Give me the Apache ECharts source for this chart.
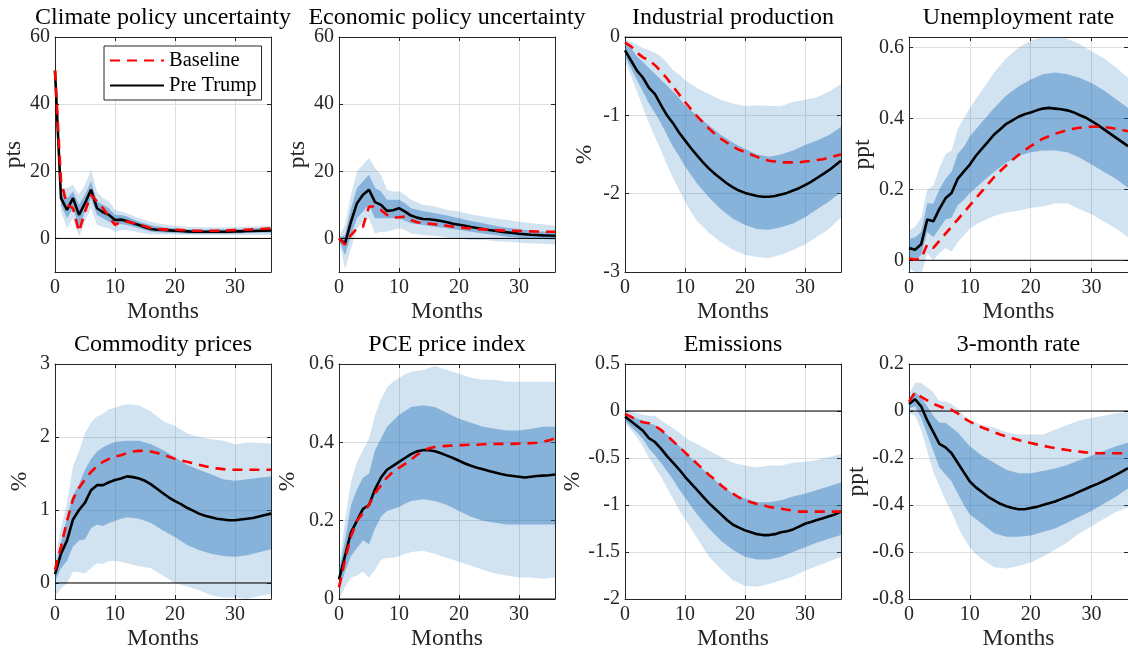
<!DOCTYPE html>
<html><head><meta charset="utf-8">
<script src="https://cdn.jsdelivr.net/npm/echarts@6/dist/echarts.min.js"></script>
<style>html,body{margin:0;padding:0;background:#fff}#c{width:1128px;height:655px}</style>
</head><body><div id="c"></div>
<script>
// ---------------- DATA ----------------
const months = [0,1,2,3,4,5,6,7,8,9,10,11,12,13,14,15,16,17,18,19,20,21,22,23,24,25,26,27,28,29,30,31,32,33,34,35,36];
const bandMonths = [0,1,2,3,4,5,6,7,8,9,10,11,12,14,16,18,20,22,24,26,28,30,32,34,36];
const panelTitles = ['Climate policy uncertainty','Economic policy uncertainty','Industrial production','Unemployment rate','Commodity prices','PCE price index','Emissions','3-month rate'];
const panelUnits = ['pts','pts','%','ppt','%','%','%','ppt'];
const xLabel = 'Months';
const legendNames = ['Baseline','Pre Trump'];
const yMin = [-10,-10,-3,-0.033,-0.22,0,-2,-0.8];
const yMax = [60,60,0,0.63,3,0.6,0.5,0.2];
const yStep = [20,20,1,0.2,1,0.2,0.5,0.2];

// Climate policy uncertainty
const cpuPre = [50,12,8.5,12,7,10.5,14.5,9,7.8,7,5.5,5.6,5.2,4.5,4.0,3.3,2.8,2.6,2.5,2.4,2.3,2.2,2.1,2.0,2.0,2.0,2.0,2.0,2.0,2.0,2.1,2.1,2.2,2.2,2.3,2.3,2.4];
const cpuBase = [50,17,10,9,2,8,13,11,9,6.5,4,5,5,4.6,4.2,3.6,3.0,2.8,2.7,2.6,2.6,2.5,2.4,2.3,2.3,2.3,2.3,2.3,2.4,2.4,2.5,2.6,2.6,2.7,2.8,2.9,3.0];
const cpuLightLo = [50,8,3,6,0.5,5,9,4,3.5,3,2,2.5,2.5,1.8,1.2,1.2,1.2,1.1,1.0,1.0,1.0,1.0,1.0,1.0,1.0];
const cpuLightHi = [50,15,15,16,13,16,20.5,14,12,11,8.5,8,7.5,6,5,4.2,3.8,3.5,3.3,3.3,3.3,3.4,3.5,3.6,3.7];
const cpuDarkLo = [50,10,6,9,3.5,8,12,7,6,5,4,4.3,4,3,2,1.8,1.6,1.4,1.4,1.4,1.4,1.5,1.6,1.7,1.8];
const cpuDarkHi = [50,13.5,12,14,10,13,17,11,10,9,7,7,6.5,5,3.9,3.3,3.0,2.7,2.6,2.6,2.7,2.8,2.9,3.0,3.1];

// Economic policy uncertainty
const epuPre = [0,-1.5,5,10.5,13,14.5,10.8,10,8.2,8.4,9,8,6.8,6.2,5.8,5.7,5.5,5.2,4.8,4.4,4.1,3.8,3.4,3.1,2.8,2.5,2.3,2.0,1.8,1.6,1.4,1.25,1.1,1.0,0.9,0.85,0.8];
const epuBase = [0,-1.8,1,3,3.5,9.5,9.5,8.5,7,6.2,6.3,6.5,5.5,4.8,4.6,4.4,4.2,4.0,3.8,3.5,3.3,3.1,3.0,2.8,2.7,2.6,2.5,2.4,2.3,2.25,2.2,2.15,2.1,2.05,2.0,2.0,2.0];
const epuLightLo = [-0.5,-9,-3,3,5,6,1.5,2,2,2.5,3,2.5,1.5,1,0.7,0.3,0,-0.5,-0.5,-0.8,-1,-1.2,-1.5,-1.6,-1.8];
const epuLightHi = [0.5,4,13,20,22,24,21,19,14.5,14,14,13,11.5,10,9.5,8.5,8,7.2,6.5,6,5.5,5,4.5,4.2,3.8];
const epuDarkLo = [-0.3,-5,1,6,8,10,6,6,6,6,6,5.3,4.5,4,3.5,3,2.5,2,1.5,1,0.5,0.2,0,-0.2,-0.3];
const epuDarkHi = [0.3,1,9,15,17,19,15,14,11.5,11.5,11.5,10.5,9,8.2,7.5,6.8,6,5.2,4.5,3.8,3.2,2.8,2.3,2.1,2.0];

// Industrial production
const ipPre = [-0.17,-0.3,-0.43,-0.52,-0.65,-0.73,-0.87,-1.0,-1.1,-1.22,-1.32,-1.42,-1.51,-1.6,-1.68,-1.75,-1.81,-1.87,-1.92,-1.96,-1.99,-2.01,-2.03,-2.04,-2.04,-2.03,-2.01,-1.99,-1.96,-1.93,-1.89,-1.85,-1.8,-1.75,-1.7,-1.64,-1.58];
const ipBase = [-0.07,-0.12,-0.2,-0.26,-0.3,-0.36,-0.44,-0.53,-0.63,-0.73,-0.83,-0.92,-1.01,-1.09,-1.17,-1.24,-1.3,-1.35,-1.4,-1.44,-1.47,-1.5,-1.53,-1.56,-1.58,-1.59,-1.6,-1.6,-1.6,-1.6,-1.59,-1.58,-1.57,-1.56,-1.54,-1.52,-1.5];
const ipLightLo = [-0.3,-0.5,-0.7,-0.9,-1.1,-1.28,-1.45,-1.63,-1.8,-1.95,-2.1,-2.23,-2.35,-2.5,-2.62,-2.72,-2.78,-2.81,-2.82,-2.78,-2.72,-2.65,-2.55,-2.45,-2.3];
const ipLightHi = [-0.03,-0.06,-0.1,-0.14,-0.17,-0.2,-0.25,-0.33,-0.42,-0.48,-0.55,-0.6,-0.65,-0.73,-0.8,-0.85,-0.88,-0.87,-0.88,-0.88,-0.83,-0.8,-0.77,-0.7,-0.6];
const ipDarkLo = [-0.25,-0.4,-0.55,-0.7,-0.85,-0.97,-1.1,-1.25,-1.4,-1.52,-1.65,-1.76,-1.87,-2.05,-2.2,-2.32,-2.4,-2.45,-2.46,-2.43,-2.38,-2.3,-2.2,-2.1,-1.98];
const ipDarkHi = [-0.08,-0.14,-0.25,-0.32,-0.4,-0.47,-0.55,-0.62,-0.7,-0.78,-0.87,-0.94,-1.0,-1.13,-1.25,-1.35,-1.43,-1.5,-1.53,-1.5,-1.45,-1.38,-1.32,-1.25,-1.15];

// Unemployment rate
const urPre = [0.035,0.03,0.045,0.115,0.11,0.145,0.175,0.19,0.23,0.25,0.27,0.295,0.315,0.335,0.355,0.37,0.385,0.395,0.405,0.412,0.417,0.423,0.428,0.43,0.428,0.426,0.423,0.418,0.41,0.403,0.393,0.382,0.37,0.358,0.346,0.334,0.322];
const urBase = [0.005,0.002,0.005,0.045,0.035,0.055,0.075,0.095,0.115,0.135,0.155,0.175,0.195,0.215,0.235,0.252,0.268,0.283,0.297,0.31,0.322,0.333,0.343,0.35,0.357,0.362,0.367,0.371,0.374,0.376,0.377,0.377,0.376,0.374,0.371,0.368,0.364];
const urLightLo = [-0.02,-0.035,-0.04,0.02,0.0,0.02,0.035,0.025,0.05,0.07,0.09,0.1,0.11,0.125,0.135,0.14,0.148,0.152,0.16,0.16,0.145,0.13,0.11,0.09,0.065];
const urLightHi = [0.085,0.095,0.12,0.2,0.21,0.26,0.3,0.31,0.37,0.4,0.43,0.455,0.48,0.53,0.57,0.6,0.62,0.63,0.635,0.625,0.61,0.59,0.57,0.545,0.515];
const urDarkLo = [0.01,0.0,0.015,0.08,0.065,0.09,0.115,0.12,0.155,0.17,0.19,0.205,0.22,0.25,0.275,0.295,0.305,0.31,0.31,0.305,0.29,0.27,0.25,0.23,0.205];
const urDarkHi = [0.06,0.065,0.08,0.16,0.16,0.2,0.23,0.25,0.3,0.32,0.35,0.37,0.39,0.43,0.465,0.49,0.51,0.525,0.53,0.525,0.515,0.5,0.48,0.455,0.43];

// Commodity prices
const cmPre = [0.12,0.4,0.58,0.87,1.0,1.1,1.27,1.34,1.34,1.38,1.41,1.43,1.46,1.45,1.43,1.4,1.35,1.29,1.23,1.17,1.12,1.08,1.03,0.99,0.95,0.92,0.9,0.88,0.87,0.86,0.86,0.87,0.88,0.89,0.91,0.93,0.95];
const cmBase = [0.18,0.5,0.85,1.15,1.3,1.42,1.52,1.6,1.66,1.7,1.73,1.75,1.78,1.8,1.81,1.81,1.8,1.78,1.76,1.73,1.7,1.68,1.66,1.64,1.62,1.6,1.58,1.57,1.56,1.55,1.55,1.55,1.55,1.55,1.55,1.55,1.55];
const cmLightLo = [-0.18,-0.08,0.0,0.15,0.15,0.13,0.2,0.27,0.26,0.3,0.3,0.29,0.27,0.23,0.2,0.1,0.0,-0.05,-0.1,-0.17,-0.2,-0.2,-0.22,-0.18,-0.15];
const cmLightHi = [0.3,0.75,1.1,1.6,1.8,2.05,2.2,2.28,2.32,2.38,2.4,2.43,2.45,2.43,2.35,2.22,2.15,2.05,2.0,1.97,1.95,1.9,1.92,1.92,1.91];
const cmDarkLo = [0.02,0.2,0.3,0.5,0.58,0.6,0.75,0.8,0.78,0.82,0.85,0.88,0.9,0.88,0.82,0.72,0.63,0.52,0.45,0.4,0.37,0.36,0.38,0.42,0.46];
const cmDarkHi = [0.2,0.55,0.9,1.2,1.35,1.55,1.7,1.8,1.86,1.9,1.93,1.94,1.95,1.95,1.9,1.82,1.72,1.62,1.55,1.49,1.42,1.4,1.42,1.44,1.46];

// PCE price index
const pcePre = [0.05,0.11,0.17,0.2,0.23,0.24,0.28,0.31,0.33,0.34,0.35,0.36,0.37,0.377,0.38,0.38,0.377,0.372,0.366,0.36,0.353,0.346,0.34,0.335,0.331,0.327,0.323,0.319,0.316,0.314,0.312,0.31,0.312,0.314,0.315,0.316,0.318];
const pceBase = [0.03,0.1,0.16,0.2,0.22,0.24,0.27,0.29,0.31,0.325,0.335,0.345,0.355,0.368,0.378,0.385,0.388,0.39,0.391,0.392,0.393,0.393,0.394,0.394,0.395,0.395,0.396,0.396,0.396,0.396,0.397,0.397,0.398,0.399,0.401,0.405,0.41];
const pceLightLo = [0.0,0.03,0.055,0.06,0.07,0.055,0.075,0.1,0.105,0.105,0.11,0.115,0.12,0.123,0.115,0.105,0.095,0.085,0.075,0.065,0.06,0.055,0.055,0.052,0.055];
const pceLightHi = [0.08,0.2,0.3,0.35,0.38,0.41,0.47,0.51,0.54,0.555,0.565,0.573,0.58,0.585,0.595,0.585,0.575,0.565,0.56,0.56,0.555,0.555,0.555,0.555,0.555];
const pceDarkLo = [0.02,0.07,0.11,0.13,0.15,0.14,0.18,0.21,0.225,0.23,0.235,0.243,0.25,0.255,0.25,0.24,0.225,0.21,0.2,0.195,0.19,0.19,0.19,0.19,0.19];
const pceDarkHi = [0.07,0.15,0.24,0.28,0.31,0.32,0.38,0.41,0.44,0.455,0.47,0.48,0.49,0.495,0.49,0.475,0.46,0.45,0.44,0.435,0.43,0.43,0.435,0.44,0.44];

// Emissions
const emPre = [-0.06,-0.11,-0.16,-0.21,-0.29,-0.33,-0.4,-0.48,-0.55,-0.62,-0.7,-0.77,-0.84,-0.91,-0.98,-1.04,-1.1,-1.16,-1.21,-1.24,-1.27,-1.29,-1.31,-1.32,-1.32,-1.31,-1.29,-1.28,-1.26,-1.23,-1.2,-1.18,-1.16,-1.14,-1.12,-1.1,-1.07];
const emBase = [-0.03,-0.06,-0.1,-0.12,-0.13,-0.16,-0.2,-0.26,-0.32,-0.38,-0.44,-0.5,-0.56,-0.62,-0.68,-0.73,-0.79,-0.84,-0.88,-0.92,-0.95,-0.97,-0.99,-1.0,-1.02,-1.03,-1.04,-1.05,-1.06,-1.07,-1.07,-1.07,-1.07,-1.07,-1.07,-1.07,-1.07];
const emLightLo = [-0.13,-0.2,-0.28,-0.38,-0.5,-0.6,-0.7,-0.82,-0.93,-1.05,-1.15,-1.25,-1.35,-1.55,-1.68,-1.8,-1.86,-1.87,-1.84,-1.8,-1.76,-1.7,-1.65,-1.6,-1.55];
const emLightHi = [0.02,0.0,-0.02,-0.04,-0.05,-0.05,-0.1,-0.14,-0.18,-0.23,-0.28,-0.32,-0.35,-0.42,-0.49,-0.55,-0.58,-0.6,-0.58,-0.58,-0.55,-0.54,-0.52,-0.49,-0.46];
const emDarkLo = [-0.1,-0.17,-0.23,-0.3,-0.4,-0.47,-0.55,-0.64,-0.73,-0.83,-0.92,-1.01,-1.1,-1.25,-1.38,-1.48,-1.55,-1.58,-1.58,-1.55,-1.5,-1.45,-1.4,-1.36,-1.32];
const emDarkHi = [-0.02,-0.05,-0.08,-0.1,-0.13,-0.15,-0.2,-0.25,-0.31,-0.37,-0.43,-0.5,-0.56,-0.68,-0.79,-0.88,-0.93,-0.97,-0.97,-0.95,-0.91,-0.88,-0.84,-0.8,-0.76];

// 3-month rate
const trPre = [0.03,0.05,0.02,-0.04,-0.09,-0.14,-0.155,-0.18,-0.22,-0.26,-0.3,-0.325,-0.345,-0.365,-0.38,-0.395,-0.405,-0.413,-0.418,-0.418,-0.413,-0.408,-0.4,-0.393,-0.385,-0.375,-0.365,-0.355,-0.343,-0.332,-0.32,-0.31,-0.298,-0.285,-0.272,-0.258,-0.243];
const trBase = [0.04,0.08,0.06,0.045,0.03,0.02,0.01,0.005,-0.01,-0.03,-0.045,-0.058,-0.07,-0.08,-0.09,-0.1,-0.108,-0.116,-0.123,-0.13,-0.136,-0.142,-0.148,-0.153,-0.158,-0.162,-0.166,-0.17,-0.173,-0.176,-0.178,-0.18,-0.18,-0.18,-0.18,-0.18,-0.18];
const trLightLo = [-0.01,-0.02,-0.08,-0.17,-0.26,-0.32,-0.38,-0.43,-0.49,-0.54,-0.58,-0.61,-0.63,-0.665,-0.67,-0.66,-0.645,-0.62,-0.59,-0.56,-0.52,-0.49,-0.46,-0.43,-0.41];
const trLightHi = [0.07,0.12,0.12,0.1,0.08,0.04,0.04,0.03,0.01,-0.02,-0.04,-0.05,-0.06,-0.07,-0.09,-0.1,-0.1,-0.1,-0.08,-0.06,-0.04,-0.03,-0.02,-0.01,-0.005];
const trDarkLo = [0.01,0.02,-0.03,-0.1,-0.17,-0.24,-0.27,-0.3,-0.35,-0.4,-0.44,-0.46,-0.48,-0.52,-0.535,-0.535,-0.53,-0.515,-0.5,-0.475,-0.45,-0.425,-0.395,-0.365,-0.33];
const trDarkHi = [0.05,0.08,0.06,0.02,-0.02,-0.05,-0.05,-0.07,-0.09,-0.12,-0.15,-0.17,-0.19,-0.22,-0.25,-0.265,-0.265,-0.255,-0.245,-0.23,-0.21,-0.19,-0.17,-0.15,-0.135];

const preSeries = [cpuPre,epuPre,ipPre,urPre,cmPre,pcePre,emPre,trPre];
const baseSeries = [cpuBase,epuBase,ipBase,urBase,cmBase,pceBase,emBase,trBase];
const lightLo = [cpuLightLo,epuLightLo,ipLightLo,urLightLo,cmLightLo,pceLightLo,emLightLo,trLightLo];
const lightHi = [cpuLightHi,epuLightHi,ipLightHi,urLightHi,cmLightHi,pceLightHi,emLightHi,trLightHi];
const darkLo = [cpuDarkLo,epuDarkLo,ipDarkLo,urDarkLo,cmDarkLo,pceDarkLo,emDarkLo,trDarkLo];
const darkHi = [cpuDarkHi,epuDarkHi,ipDarkHi,urDarkHi,cmDarkHi,pceDarkHi,emDarkHi,trDarkHi];

// ---------------- LAYOUT / STYLE ----------------
const FONT = 'Liberation Serif';
const AX = '#262626';
const LIGHT = 'rgba(26,110,185,0.2)';
const DARK = 'rgba(26,110,185,0.4)';
const gridBoxes = [
  {left:55, top:37, width:216, height:235, yGap:28},
  {left:339, top:37, width:216, height:235, yGap:27},
  {left:625, top:37, width:216, height:235, yGap:28},
  {left:909, top:37, width:219, height:235, yGap:32},
  {left:55, top:364, width:216, height:235, yGap:23},
  {left:339, top:364, width:216, height:235, yGap:39},
  {left:625, top:364, width:216, height:235, yGap:40},
  {left:909, top:364, width:219, height:235, yGap:37}
];

function bandRenderer(ms, lo, hi, color){
  return function(params, api){
    if (params.dataIndex !== 0) return null;
    const pts = [];
    for (let k = 0; k < ms.length; k++) pts.push(api.coord([ms[k], hi[k]]));
    for (let k = ms.length - 1; k >= 0; k--) pts.push(api.coord([ms[k], lo[k]]));
    const cs = params.coordSys;
    return {type:'polygon', shape:{points:pts}, style:{fill:color},
      clipPath:{type:'rect', shape:{x:cs.x, y:cs.y, width:cs.width, height:cs.height}}};
  };
}
function isMult(v, s){ const r = v / s; return Math.abs(r - Math.round(r)) < 1e-9; }

const option = {backgroundColor:'#fff', animation:false, title:[], grid:[], xAxis:[], yAxis:[], series:[],
  legend:{data:legendNames, orient:'vertical', left:104, top:46, itemWidth:54, itemHeight:14, itemGap:4,
    padding:[4,5,4,5], backgroundColor:'#fff', borderColor:AX, borderWidth:1, selectedMode:false, z:20,
    itemStyle:{opacity:0, borderWidth:0},
    textStyle:{fontFamily:FONT, fontSize:20.5, color:'#000'}}};

const labelStyle = {fontFamily:FONT, fontSize:20, color:AX};
const nameStyle = {fontFamily:FONT, fontSize:23.5, color:AX};

panelTitles.forEach((t, i) => {
  const g = gridBoxes[i];
  option.grid.push({left:g.left, top:g.top, width:g.width, height:g.height});
  option.title.push({text:t, left:g.left + g.width/2, top:g.top - 19, textAlign:'center', textVerticalAlign:'middle', padding:0,
    textStyle:{fontFamily:FONT, fontSize:24, fontWeight:'normal', color:'#000'}});
  const xi = option.xAxis.length, yi = option.yAxis.length;
  const xCommon = {type:'value', gridIndex:i, min:0, max:36, interval:10};
  option.xAxis.push(Object.assign({}, xCommon, {position:'bottom', name:xLabel, nameLocation:'middle', nameGap:28, nameTextStyle:nameStyle,
    axisLine:{show:true, onZero:false, lineStyle:{color:AX, width:1}},
    axisTick:{show:true, inside:true, length:4, lineStyle:{color:AX}},
    axisLabel:Object.assign({showMaxLabel:false, margin:6}, labelStyle),
    splitLine:{show:true, lineStyle:{color:'#dedede', width:1}}}));
  option.xAxis.push(Object.assign({}, xCommon, {position:'top',
    axisLine:{show:true, onZero:false, lineStyle:{color:AX, width:1}},
    axisTick:{show:true, inside:true, length:4, lineStyle:{color:AX}},
    axisLabel:{show:false}, splitLine:{show:false}}));
  const mn = yMin[i], mx = yMax[i], st = yStep[i];
  const yCommon = {type:'value', gridIndex:i, min:mn, max:mx};
  if (isMult(mn, st)) yCommon.interval = st; else { yCommon.minInterval = st; yCommon.maxInterval = st; }
  option.yAxis.push(Object.assign({}, yCommon, {position:'left', name:panelUnits[i], nameLocation:'middle', nameGap:g.yGap, nameTextStyle:nameStyle,
    axisLine:{show:true, onZero:false, lineStyle:{color:AX, width:1}},
    axisTick:{show:true, inside:true, length:4, lineStyle:{color:AX}},
    axisLabel:Object.assign({showMinLabel:isMult(mn, st), showMaxLabel:isMult(mx, st), margin:5}, labelStyle),
    splitLine:{show:true, lineStyle:{color:'#dedede', width:1}}}));
  option.yAxis.push(Object.assign({}, yCommon, {position:'right',
    axisLine:{show:true, onZero:false, lineStyle:{color:AX, width:1}},
    axisTick:{show:true, inside:true, length:4, lineStyle:{color:AX}},
    axisLabel:{show:false}, splitLine:{show:false}}));

  option.series.push({type:'custom', xAxisIndex:xi, yAxisIndex:yi, silent:true, z:1,
    renderItem:bandRenderer(bandMonths, lightLo[i], lightHi[i], LIGHT), encode:{x:0, y:[1,2]},
    data:bandMonths.map((m, k) => [m, lightLo[i][k], lightHi[i][k]])});
  option.series.push({type:'custom', xAxisIndex:xi, yAxisIndex:yi, silent:true, z:2,
    renderItem:bandRenderer(bandMonths, darkLo[i], darkHi[i], DARK), encode:{x:0, y:[1,2]},
    data:bandMonths.map((m, k) => [m, darkLo[i][k], darkHi[i][k]])});
  option.series.push({type:'line', xAxisIndex:xi, yAxisIndex:yi, silent:true, z:3, symbol:'none',
    data:[[0,0],[36,0]], lineStyle:{color:'#000', width:1}});
  option.series.push({type:'line', name:'Pre Trump', xAxisIndex:xi, yAxisIndex:yi, z:4, symbol:'none', showSymbol:false,
    data:months.map((m, k) => [m, preSeries[i][k]]), lineStyle:{color:'#000', width:2.6}, itemStyle:{color:'#000'}});
  option.series.push({type:'line', name:'Baseline', xAxisIndex:xi, yAxisIndex:yi, z:5, symbol:'none', showSymbol:false,
    data:months.map((m, k) => [m, baseSeries[i][k]]), lineStyle:{color:'#ff0000', width:2.6, type:[10,7]}, itemStyle:{color:'#ff0000'}});
});

const chart = echarts.init(document.getElementById('c'), null, {renderer:'canvas'});
chart.setOption(option);
</script>
</body></html>
